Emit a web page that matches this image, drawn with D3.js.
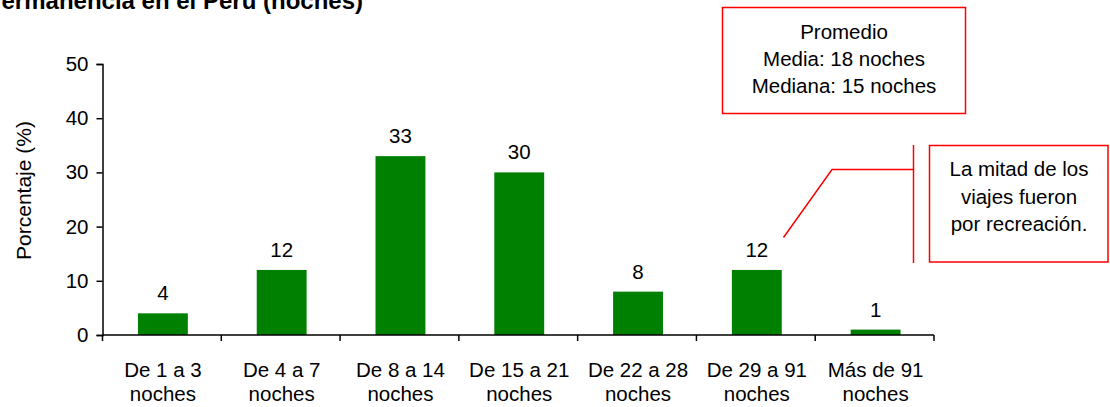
<!DOCTYPE html>
<html><head><meta charset="utf-8">
<script src="https://cdn.jsdelivr.net/npm/d3@7"></script>
<style>
html,body{margin:0;padding:0;background:#fff;}
svg text{font-family:"Liberation Sans",Arial,sans-serif;fill:#000;}
</style></head>
<body>
<svg id="chart" width="1110" height="407"></svg>
<script>
const categories = [["De 1 a 3","noches"],["De 4 a 7","noches"],["De 8 a 14","noches"],["De 15 a 21","noches"],["De 22 a 28","noches"],["De 29 a 91","noches"],["Más de 91","noches"]];
const values = [4, 12, 33, 30, 8, 12, 1];
const yTicks = [0, 10, 20, 30, 40, 50];
const titleText = "Permanencia en el Perú (noches)";
const yLabel = "Porcentaje (%)";
const box1Lines = ["Promedio", "Media: 18 noches", "Mediana: 15 noches"];
const box2Lines = ["La mitad de los", "viajes fueron", "por recreación."];

const svg = d3.select("#chart");
const FS = 20.5;
const x = d3.scaleBand().domain(d3.range(categories.length)).range([102.5, 934]).padding(0);
const y = d3.scaleLinear().domain([0, 50]).range([335, 64]);
const barW = x.bandwidth() * 0.42;

// title (clipped at the left edge like the original)
svg.append("text").attr("x", 363).attr("y", 9).attr("text-anchor", "end")
  .attr("font-weight", "bold").attr("font-size", 24).text(titleText);

// bars
svg.selectAll("rect.bar").data(values).join("rect").attr("class", "bar")
  .attr("x", (d, i) => x(i) + x.bandwidth() / 2 - barW / 2 + 1)
  .attr("width", barW)
  .attr("y", d => y(d)).attr("height", d => y(0) - y(d))
  .attr("fill", "#008000");

// value labels
svg.selectAll("text.val").data(values).join("text").attr("class", "val")
  .attr("x", (d, i) => x(i) + x.bandwidth() / 2 + 1)
  .attr("y", d => y(d) - 13)
  .attr("text-anchor", "middle").attr("font-size", FS).text(d => d);

// y axis
const yAxis = d3.axisLeft(y).tickValues(yTicks).tickSize(6).tickPadding(8);
const gy = svg.append("g").attr("transform", "translate(102.5,0)").call(yAxis);
gy.select(".domain").attr("stroke", "#000").attr("stroke-width", 1.5);
gy.selectAll(".tick line").attr("stroke", "#000").attr("stroke-width", 1.5);
gy.selectAll(".tick text").attr("font-size", FS).attr("font-family", "Liberation Sans, Arial, sans-serif").attr("fill", "#000");

// x axis (ticks at category boundaries)
const xLine = svg.append("g");
xLine.append("line").attr("x1", 102.5).attr("x2", 934).attr("y1", 335).attr("y2", 335)
  .attr("stroke", "#000").attr("stroke-width", 1.5);
const bounds = d3.range(categories.length + 1).map(i => i < categories.length ? x(i) : x(categories.length - 1) + x.bandwidth());
xLine.selectAll("line.xt").data(bounds).join("line").attr("class", "xt")
  .attr("x1", d => d).attr("x2", d => d).attr("y1", 335).attr("y2", 341)
  .attr("stroke", "#000").attr("stroke-width", 1.5);

const catG = svg.selectAll("text.cat").data(categories).join("text").attr("class", "cat")
  .attr("text-anchor", "middle").attr("font-size", FS);
catG.each(function(d, i) {
  const t = d3.select(this);
  const cx = x(i) + x.bandwidth() / 2 + 1;
  d.forEach((line, k) => {
    t.append("tspan").attr("x", cx).attr("y", 377 + k * 24).text(line);
  });
});

// y label
svg.append("text").attr("transform", "translate(31,190.5) rotate(-90)")
  .attr("text-anchor", "middle").attr("font-size", 21).text(yLabel);

// box 1
svg.append("rect").attr("x", 722.5).attr("y", 7.5).attr("width", 243).attr("height", 106)
  .attr("fill", "#fff").attr("stroke", "#ff0000").attr("stroke-width", 1.5);
svg.selectAll("text.b1").data(box1Lines).join("text").attr("class", "b1")
  .attr("x", 844).attr("y", (d, i) => 39 + i * 27).attr("text-anchor", "middle")
  .attr("font-size", FS).text(d => d);

// box 2 with callout
svg.append("rect").attr("x", 929.5).attr("y", 145.5).attr("width", 178.5).attr("height", 116.5)
  .attr("fill", "#fff").attr("stroke", "#ff0000").attr("stroke-width", 1.5);
svg.selectAll("text.b2").data(box2Lines).join("text").attr("class", "b2")
  .attr("x", 1019).attr("y", (d, i) => 176 + i * 27.5).attr("text-anchor", "middle")
  .attr("font-size", FS).text(d => d);
svg.append("line").attr("x1", 913.5).attr("x2", 913.5).attr("y1", 145).attr("y2", 263)
  .attr("stroke", "#ff0000").attr("stroke-width", 1.5);
svg.append("polyline").attr("points", "913.5,169.5 832,169.5 783.5,237.5")
  .attr("fill", "none").attr("stroke", "#ff0000").attr("stroke-width", 1.5);
</script>
</body></html>
